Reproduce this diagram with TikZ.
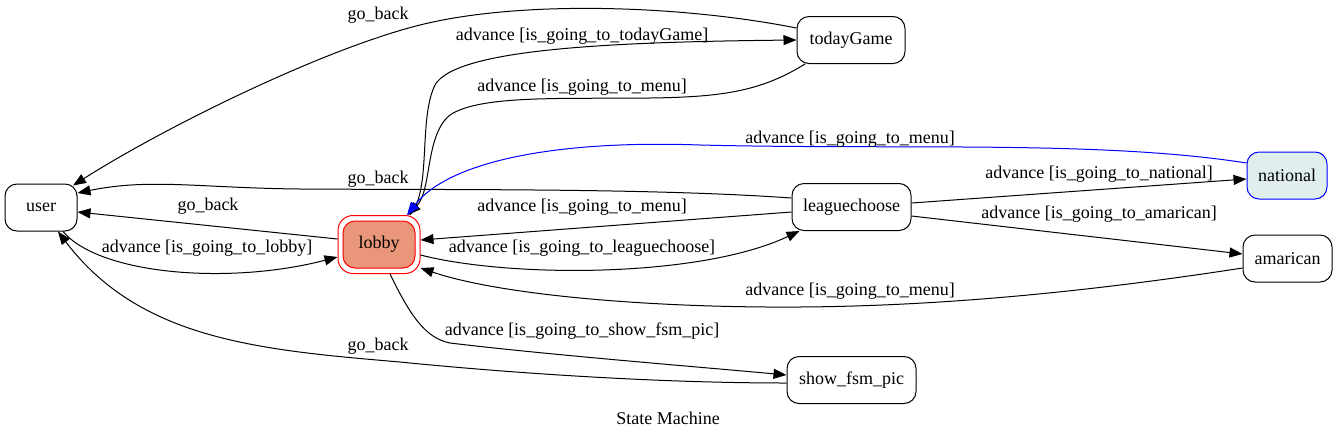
\documentclass[tikz,border=0pt]{standalone}
\usepackage{fontspec}
\setmainfont{Liberation Serif}
\usetikzlibrary{arrows.meta}
\definecolor{lobbyfill}{HTML}{E9967A}
\definecolor{natfill}{HTML}{E0EEEE}
\begin{document}
\begin{tikzpicture}[x=1pt,y=-1pt,
  state/.style={draw, rounded corners=12pt, line width=1pt, inner sep=0pt,
    font=\fontsize{18}{20}\selectfont, minimum height=47pt},
  lbl/.style={anchor=base, font=\fontsize{18}{20}\selectfont, inner sep=0pt},
  edge/.style={line width=1pt, -{Triangle[length=13pt,width=10pt]}},
  plain/.style={line width=1pt}
]
\useasboundingbox (0,0) rectangle (1337,440);

% nodes
\node[state, minimum width=72pt] (user) at (41,207.5) {user};
\node[state, draw=red, minimum width=82pt, minimum height=58pt, rounded corners=15pt] (lobbyout) at (379,244.5) {};
\node[state, draw=red, fill=lobbyfill, minimum width=72pt] (lobby) at (379,244.5) {lobby};
\node[state, minimum width=108pt] (todayGame) at (851,40) {todayGame};
\node[state, minimum width=119pt] (leaguechoose) at (851.5,207) {leaguechoose};
\node[state, draw=blue, fill=natfill, minimum width=80pt] (national) at (1287,175.5) {national};
\node[state, minimum width=89pt] (amarican) at (1287.5,258.5) {amarican};
\node[state, minimum width=129pt] (show) at (851.5,380) {show\_fsm\_pic};

% edges
\draw[edge] ([xshift=22pt]user.south) .. controls (100,275) and (230,285) .. ([yshift=-12.5pt]lobbyout.west);
\draw[edge] ([yshift=5.5pt]lobbyout.west) -- ([yshift=-4.5pt]user.east);
\draw[edge] ([xshift=31pt]lobbyout.north) .. controls (432,190) and (418,120) .. (435,85)
  .. controls (455,50) and (600,42) .. (todayGame.west);
\draw[edge] ([xshift=-46pt]todayGame.south) .. controls (760,92) and (720,97) .. (650,98)
  .. controls (560,99) and (480,95) .. (450,115)
  .. controls (425,135) and (432,190) .. ([xshift=29pt]lobbyout.north);
\draw[edge] ([yshift=12pt]todayGame.west) .. controls (680,5) and (520,0) .. (420,25)
  .. controls (320,50) and (160,130) .. ([xshift=32pt,yshift=-2pt]user.north);
\draw[edge] ([yshift=9pt]leaguechoose.west) .. controls (650,188) and (450,190) .. (300,189)
  .. controls (200,188) and (150,178) .. ([yshift=14.5pt]user.east);
\draw[edge] ([yshift=-5pt]leaguechoose.west) -- ([yshift=4.5pt]lobbyout.east);
\draw[edge] ([yshift=-10.5pt]lobbyout.east) .. controls (510,278) and (700,278) .. ([xshift=-52pt]leaguechoose.south);
\draw[edge] ([yshift=4pt]leaguechoose.east) -- ([yshift=-3.5pt]national.west);
\draw[edge] ([yshift=-9pt]leaguechoose.east) -- ([yshift=4.5pt]amarican.west);
\draw[edge, blue] ([yshift=12.5pt]national.west) .. controls (1100,140) and (900,150) .. (700,145)
  .. controls (560,140) and (450,160) .. ([xshift=28pt]lobbyout.north);
\draw[edge] ([yshift=-9.5pt]amarican.west) .. controls (1100,290) and (950,306) .. (800,307)
  .. controls (650,308) and (500,295) .. ([yshift=-23.5pt]lobbyout.east);
\draw[edge] ([xshift=11pt]lobbyout.south) .. controls (410,315) and (425,338) .. (450,343)
  .. controls (550,355) and (700,367) .. ([yshift=5pt]show.west);
\draw[edge] ([yshift=-3pt]show.west) .. controls (650,383) and (500,372) .. (400,362)
  .. controls (260,350) and (140,340) .. ([xshift=17pt]user.south);

% labels
\node[lbl] (l1) at (378,19) {go\_back};
\node[lbl] (l2) at (582,40) {advance [is\_going\_to\_todayGame]};
\node[lbl] (l3) at (582,91) {advance [is\_going\_to\_menu]};
\node[lbl] (l4) at (850,143) {advance [is\_going\_to\_menu]};
\node[lbl] (l5) at (378,183) {go\_back};
\node[lbl] (l6) at (1099,178) {advance [is\_going\_to\_national]};
\node[lbl] (l7) at (208,210) {go\_back};
\node[lbl] (l8) at (582,211) {advance [is\_going\_to\_menu]};
\node[lbl] (l9) at (1099,218) {advance [is\_going\_to\_amarican]};
\node[lbl] (l10) at (207,252) {advance [is\_going\_to\_lobby]};
\node[lbl] (l11) at (582,252) {advance [is\_going\_to\_leaguechoose]};
\node[lbl] (l12) at (850,295) {advance [is\_going\_to\_menu]};
\node[lbl] (l13) at (582,335) {advance [is\_going\_to\_show\_fsm\_pic]};
\node[lbl] (l14) at (378,350) {go\_back};
\node[lbl] (title) at (668,424) {State Machine};
\end{tikzpicture}
\end{document}
